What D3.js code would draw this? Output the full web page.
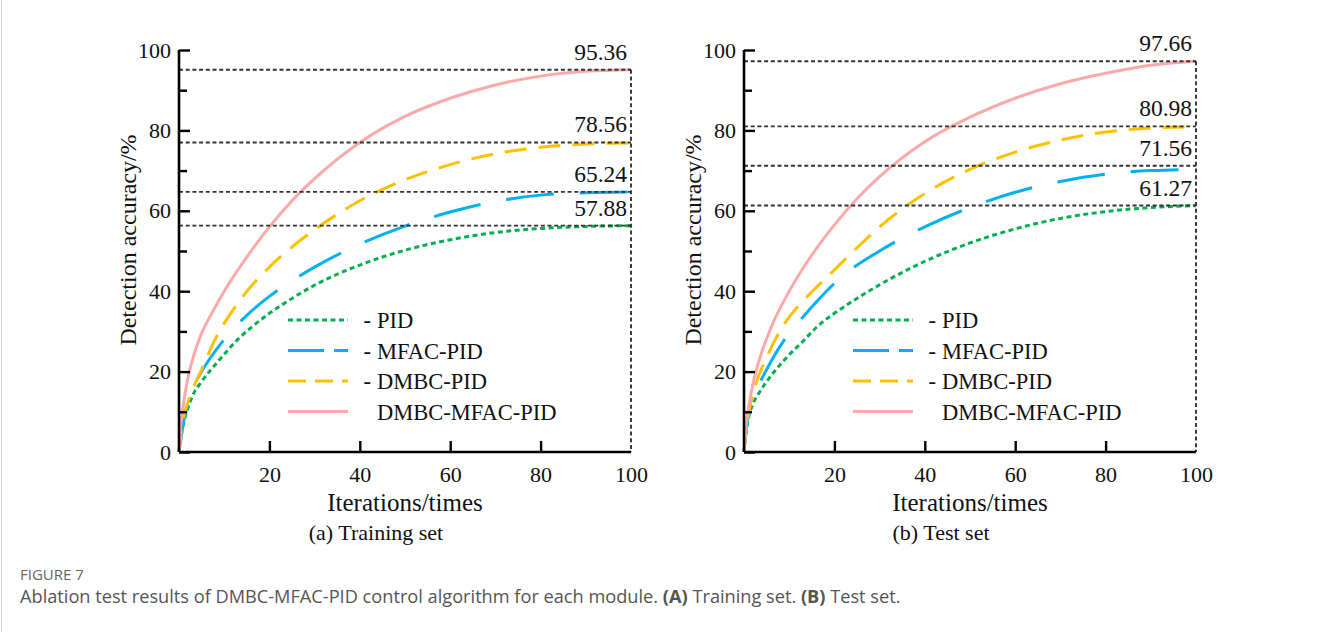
<!DOCTYPE html>
<html><head><meta charset="utf-8">
<script src="https://cdn.jsdelivr.net/npm/d3@7"></script>
<style>body{margin:0;background:#fff} svg{display:block}</style></head>
<body><svg id="c" width="1328" height="632"></svg>
<script>
// ---------- data ----------
const iterTicks = [20, 40, 60, 80, 100];
const accTicks = [0, 20, 40, 60, 80, 100];
const accMinorTicks = [10, 30, 50, 70, 90];
const seriesNames = ["PID", "MFAC-PID", "DMBC-PID", "DMBC-MFAC-PID"];
const legendPrefix = ["-", "-", "-", ""];

// Training set curves [iteration, accuracy]
const trainPID = [[0,0],[0.5,4],[1,7],[2,11],[3,14],[5,17.5],[9,23],[13,28],[16,31],[20,34.5],[25,38.2],[30,41.5],[40,46.5],[50,50.2],[60,52.8],[70,54.6],[80,55.6],[90,56.1],[100,56.3]];
const trainMFAC = [[0,0],[0.5,4],[1,7.5],[2,12],[3,15.5],[5,20],[7,23.5],[10,28],[15,34],[20,38.7],[25,42.6],[30,46],[40,51.7],[50,56.2],[60,59.7],[70,62.3],[80,63.9],[90,64.5],[100,64.7]];
const trainDMBC = [[0,0],[0.5,5],[1,8.5],[2.5,14],[5,20.5],[8,28],[13,37],[20,46],[25,51],[30,55.3],[40,62.5],[50,67.7],[60,71.5],[70,74.2],[80,75.8],[90,76.6],[100,76.9]];
const trainFull = [[0,0],[0.5,8],[1,12],[2,18.5],[3,23],[5,29.5],[7.5,35],[10,40],[15,48.5],[20,56],[25,62.5],[30,68],[40,77],[50,83.5],[60,88],[70,91.3],[80,93.5],[90,94.7],[100,95.1]];

// Test set curves [iteration, accuracy]
const testPID = [[0,0],[0.5,5],[1,8.5],[2,12],[3.5,15],[6,19],[9,23],[13,27.5],[16.5,31.5],[20,34.5],[25,38.2],[30,41.6],[40,47.4],[50,52],[60,55.5],[70,58.1],[80,59.8],[90,60.8],[100,61.3]];
const testMFAC = [[0,0],[0.5,6],[1.3,11],[3,16],[5,20.5],[9,28],[13,33.5],[16,37.3],[21,43],[30,50],[40,56],[50,60.8],[60,64.6],[70,67.3],[80,69.1],[90,70],[100,70.3]];
const testDMBC = [[0,0],[0.5,6],[1,9.5],[2.5,16.5],[5,23.5],[9,32],[13,37.5],[16.5,41.5],[20,45.3],[25,50.8],[30,56],[35,60.5],[40,64.3],[50,70.3],[60,74.6],[70,77.6],[80,79.6],[90,80.6],[100,80.9]];
const testFull = [[0,0],[0.5,7],[1,11],[2,17],[3,21.5],[6,31],[10,40],[15,49],[20,56.5],[25,63],[30,68.5],[40,77.2],[50,83.3],[60,88],[70,91.6],[80,94.2],[90,96.2],[100,97.2]];

// Final-value annotations and the levels of their dotted guide lines
const trainFinalLabels = ["57.88", "65.24", "78.56", "95.36"];
const trainGuideLevels = [56.3, 64.7, 77.0, 95.1];
const testFinalLabels = ["61.27", "71.56", "80.98", "97.66"];
const testGuideLevels = [61.3, 71.2, 81.0, 97.2];

const panelTitles = ["(a) Training set", "(b) Test set"];
const xTitle = "Iterations/times";
const yTitle = "Detection accuracy/%";

// ---------- styles ----------
const colors = ["#00B050", "#00B0F0", "#FFC000", "#FBA9A9"];
const dashes = ["5,3.5", "48,26", "22,12", null];
const legendDashes = ["5,3.5", "36,10", "18,9", null];
const serif = "'Liberation Serif','Times New Roman',serif";

const svg = d3.select("#c");
const panels = [
  {x0: 179, series: [trainPID, trainMFAC, trainDMBC, trainFull], labels: trainFinalLabels, guides: trainGuideLevels, title: panelTitles[0]},
  {x0: 744, series: [testPID, testMFAC, testDMBC, testFull], labels: testFinalLabels, guides: testGuideLevels, title: panelTitles[1]}
];
const W = 452, yTop = 50, yBot = 452;

panels.forEach(p => {
  const g = svg.append("g");
  const x = d3.scaleLinear().domain([0, 100]).range([p.x0, p.x0 + W]);
  const y = d3.scaleLinear().domain([0, 100]).range([yBot, yTop]);

  // curves
  const line = d3.line().x(d => x(d[0])).y(d => y(d[1])).curve(d3.curveMonotoneX);
  p.series.forEach((s, i) => {
    g.append("path").datum(s).attr("d", line)
      .attr("fill", "none").attr("stroke", colors[i]).attr("stroke-width", 3)
      .attr("stroke-dasharray", dashes[i]);
  });

  // dotted guides
  const maxG = d3.max(p.guides);
  const guideStyle = sel => sel.attr("stroke", "#333").attr("stroke-width", 1.9).attr("stroke-dasharray", "4,2.7");
  p.guides.forEach((v, i) => {
    g.append("line").attr("x1", x(0)).attr("x2", x(100)).attr("y1", y(v)).attr("y2", y(v)).call(guideStyle);
    g.append("text").attr("x", x(100) - 4).attr("y", y(v) - 10)
      .attr("text-anchor", "end").attr("font-family", serif).attr("font-size", 23.5)
      .attr("fill", "#111").text(p.labels[i]);
  });
  g.append("line").attr("x1", x(100)).attr("x2", x(100)).attr("y1", y(maxG)).attr("y2", y(0)).call(guideStyle);

  // axes
  const yAxis = d3.axisLeft(y).tickValues(accTicks).tickSize(-11).tickPadding(6);
  const gy = g.append("g").attr("transform", `translate(${x(0)},0)`).call(yAxis);
  gy.select(".domain").attr("stroke", "#000").attr("stroke-width", 2.6).attr("d", `M0,${yTop}V${yBot}`);
  gy.selectAll(".tick line").attr("stroke", "#000").attr("stroke-width", 2.4);
  gy.selectAll(".tick text").attr("font-family", serif).attr("font-size", 22).attr("fill", "#111").attr("dx", "-2");
  const gym = g.append("g").attr("transform", `translate(${x(0)},0)`)
    .call(d3.axisLeft(y).tickValues(accMinorTicks).tickSize(-8).tickFormat(""));
  gym.select(".domain").remove();
  gym.selectAll(".tick line").attr("stroke", "#000").attr("stroke-width", 2.4);

  const xAxis = d3.axisBottom(x).tickValues(iterTicks).tickSize(-11).tickPadding(14);
  const gx = g.append("g").attr("transform", `translate(0,${yBot})`).call(xAxis);
  gx.select(".domain").attr("stroke", "#000").attr("stroke-width", 2.6).attr("d", `M${x(0)},0H${x(100)}`);
  gx.selectAll(".tick line").attr("stroke", "#000").attr("stroke-width", 2.4)
    .filter(d => d === 100).remove();
  gx.selectAll(".tick text").attr("font-family", serif).attr("font-size", 22).attr("fill", "#111");

  // titles
  g.append("text").attr("x", x(50)).attr("y", 511).attr("text-anchor", "middle")
    .attr("font-family", serif).attr("font-size", 25).attr("fill", "#111").text(xTitle);
  g.append("text").attr("transform", `translate(${x(0) - 43},${240}) rotate(-90)`)
    .attr("text-anchor", "middle").attr("font-family", serif).attr("font-size", 24)
    .attr("fill", "#111").text(yTitle);
  g.append("text").attr("x", x(50) - 29).attr("y", 540).attr("text-anchor", "middle")
    .attr("font-family", serif).attr("font-size", 22).attr("fill", "#111").text(p.title);

  // legend
  seriesNames.forEach((n, i) => {
    const ly = 320 + i * 30.5;
    g.append("line").attr("x1", x(0) + 109).attr("x2", x(0) + 169).attr("y1", ly).attr("y2", ly)
      .attr("stroke", colors[i]).attr("stroke-width", 3).attr("stroke-dasharray", legendDashes[i]);
    g.append("text").attr("x", x(0) + 198).attr("y", ly + 8).attr("font-family", serif)
      .attr("font-size", 22.5).attr("fill", "#111").text(n);
    if (legendPrefix[i]) g.append("text").attr("x", x(0) + 192).attr("y", ly + 8)
      .attr("text-anchor", "end").attr("font-family", serif)
      .attr("font-size", 22.5).attr("fill", "#111").text(legendPrefix[i]);
  });
});

// figure frame (left edge)
svg.append("line").attr("x1", 1.5).attr("x2", 1.5).attr("y1", 0).attr("y2", 632)
  .attr("stroke", "#d6d6d6").attr("stroke-width", 1);

// caption
const cap = svg.append("g").attr("font-family", "'Open Sans','Noto Sans',sans-serif");
cap.append("text").attr("x", 20).attr("y", 580).attr("font-size", 15).attr("fill", "#666")
  .text("FIGURE 7");
const t = cap.append("text").attr("x", 20).attr("y", 603).attr("font-size", 18.2).attr("fill", "#555");
t.append("tspan").text("Ablation test results of DMBC-MFAC-PID control algorithm for each module. ");
t.append("tspan").attr("font-weight", "bold").text("(A)");
t.append("tspan").text(" Training set. ");
t.append("tspan").attr("font-weight", "bold").text("(B)");
t.append("tspan").text(" Test set.");
</script></body></html>
